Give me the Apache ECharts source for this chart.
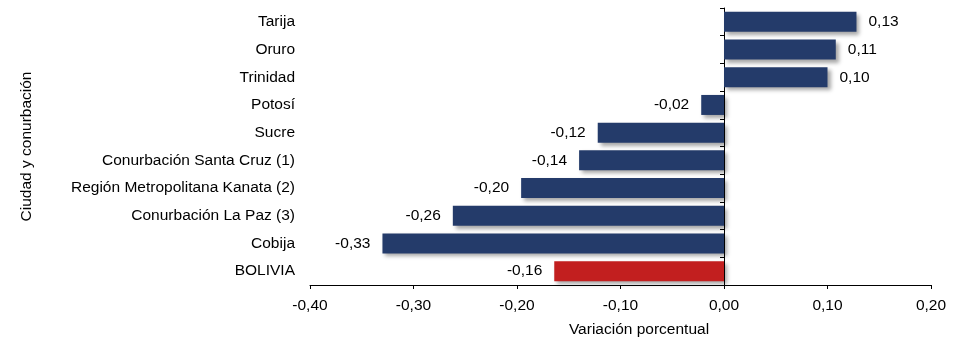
<!DOCTYPE html>
<html>
<head>
<meta charset="utf-8">
<script src="https://cdn.jsdelivr.net/npm/echarts@6/dist/echarts.min.js"></script>
<style>html,body{margin:0;padding:0;background:#fff;}#c{width:966px;height:343px;}</style>
</head>
<body>
<div id="c"></div>
<script>
const categories = ["Tarija","Oruro","Trinidad","Potosí","Sucre","Conurbación Santa Cruz (1)","Región Metropolitana Kanata (2)","Conurbación La Paz (3)","Cobija","BOLIVIA"];
const values = [0.128, 0.108, 0.100, -0.022, -0.122, -0.140, -0.196, -0.262, -0.330, -0.164];
const highlight = ["BOLIVIA"];
const xTicks = {min: -0.4, max: 0.2, interval: 0.1};

const fmt = v => v.toFixed(2).replace('.', ',');
const navy = '#243B6A', red = '#C21F1F';
const font = 'Liberation Sans, Arial, sans-serif';
const fs = 15.5;

const chart = echarts.init(document.getElementById('c'));
const cats = categories.slice().reverse();
const vals = values.slice().reverse();
chart.setOption({
  animation: false,
  grid: {left: 310, right: 35, top: 8, bottom: 55},
  xAxis: {
    type: 'value', min: xTicks.min, max: xTicks.max, interval: xTicks.interval,
    name: 'Variación porcentual', nameLocation: 'middle', nameGap: 37,
    nameTextStyle: {fontFamily: font, fontSize: fs, color: '#000', padding: [0, 0, 0, 37]},
    axisLine: {show: true, onZero: false, lineStyle: {color: '#000', width: 1}},
    axisTick: {show: true, length: 4, lineStyle: {color: '#000'}},
    axisLabel: {fontFamily: font, fontSize: fs, color: '#000', margin: 13, formatter: fmt},
    splitLine: {show: false}
  },
  yAxis: [{
    type: 'category', data: cats, position: 'left',
    name: 'Ciudad y conurbación', nameLocation: 'middle', nameGap: 275,
    nameTextStyle: {fontFamily: font, fontSize: fs, color: '#000'},
    axisLine: {show: false, onZero: false},
    axisTick: {show: false},
    axisLabel: {fontFamily: font, fontSize: fs, color: '#000', margin: 15}
  }, {
    type: 'category', data: cats, position: 'left',
    axisLine: {show: true, onZero: true, lineStyle: {color: '#000', width: 1}},
    axisTick: {show: true, length: 4, lineStyle: {color: '#000'}},
    axisLabel: {show: false}
  }],
  series: [{
    type: 'bar', yAxisIndex: 0, barWidth: 20,
    data: vals.map((v, i) => ({
      value: v,
      itemStyle: {color: highlight.includes(cats[i]) ? red : navy},
      label: {position: v >= 0 ? 'right' : 'left'}
    })),
    itemStyle: {shadowColor: 'rgba(0,0,0,0.35)', shadowBlur: 4, shadowOffsetX: 3, shadowOffsetY: 3},
    label: {show: true, fontFamily: font, fontSize: fs, color: '#000', distance: 12,
      formatter: p => fmt(p.value)}
  }]
});
</script>
</body>
</html>
